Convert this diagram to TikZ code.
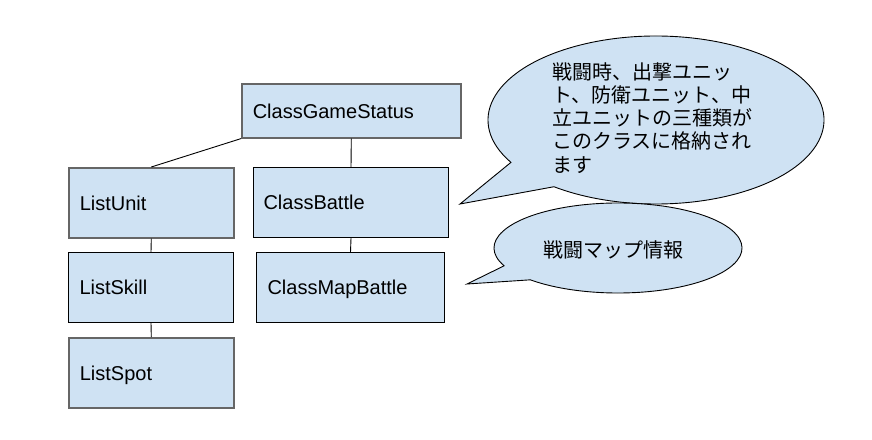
\documentclass[tikz,border=0pt]{standalone}
\usepackage{fontspec}
\setmainfont{Liberation Sans}
\newfontfamily\cjk{Noto Sans CJK JP}
\definecolor{boxfill}{HTML}{CFE2F3}
\definecolor{graybd}{HTML}{666666}
\begin{document}
\begin{tikzpicture}[x=1pt,y=-1pt,
  boxbase/.style={rectangle, fill=boxfill, inner xsep=11pt, inner ysep=0pt, align=left,
    font=\fontsize{20}{23.3}\selectfont, text=black, anchor=north west,
    text height=14.5pt, text depth=0pt},
  graybox/.style={boxbase, draw=graybd, line width=1.6pt},
  blackbox/.style={boxbase, draw=black, line width=1pt},
  conn/.style={draw=black, line width=0.9pt},
  bubble/.style={fill=boxfill, draw=black, line width=0.9pt, line join=miter},
  btext/.style={font=\cjk\fontsize{20}{23.3}\selectfont, align=left, inner sep=0pt, text=black}
]
\useasboundingbox[fill=white] (0,0) rectangle (872,439);

% boxes
\node[graybox, text width=197pt, minimum height=54pt] (gs) at (241,83) {ClassGameStatus};
\node[graybox, text width=143pt, minimum height=70pt] (lu) at (68,167) {ListUnit};
\node[blackbox, text width=143pt, minimum height=70pt] (ls) at (68,252) {ListSkill};
\node[graybox, text width=143pt, minimum height=70pt] (lp) at (68,337) {ListSpot};
\node[blackbox, inner xsep=10pt, text width=175pt, minimum height=70pt] (cb) at (253,167) {ClassBattle};
\node[blackbox, text width=166pt, minimum height=70pt] (cm) at (256,252) {ClassMapBattle};

% connectors
\draw[conn] (gs.south) -- (cb.north);
\draw[conn] (gs.south west) -- (lu.north);
\draw[conn] (lu.south) -- (ls.north);
\draw[conn] (ls.south) -- (lp.north);
\draw[conn] (cb.south) -- (cm.north);

% callout 1
\coordinate (c1) at (656,120);
\coordinate (t1) at (460,204);
\draw[bubble] (t1) -- ([shift={(c1)}]149.7:168 and 84)
  arc[start angle=149.7, end angle=487.4, x radius=168, y radius=84] -- cycle;
\node[btext, anchor=north west] (n1) at (552,62)
  {戦闘時、出撃ユニッ\\ト、防衛ユニット、中\\立ユニットの三種類が\\このクラスに格納され\\ます};

% callout 2
\coordinate (c2) at (618,248);
\coordinate (t2) at (467,284);
\draw[bubble] (t2) -- ([shift={(c2)}]156.7:124 and 45)
  arc[start angle=156.7, end angle=495, x radius=124, y radius=45] -- cycle;
\node[btext, anchor=center] (n2) at (613,250) {戦闘マップ情報};
\end{tikzpicture}
\end{document}
